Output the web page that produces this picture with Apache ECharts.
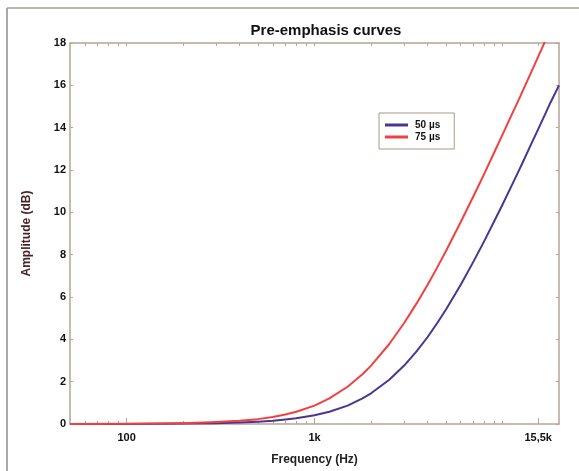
<!DOCTYPE html>
<html>
<head>
<meta charset="utf-8">
<script src="https://cdn.jsdelivr.net/npm/echarts@6/dist/echarts.min.js"></script>
<style>html,body{margin:0;padding:0;background:#fff}#c{width:579px;height:471px}</style>
</head>
<body>
<div id="c"></div>
<script>
// Frequencies (Hz) at which the curves were read
var freqs = [50, 100, 200, 300, 400, 500, 600, 700, 800, 1000, 1200, 1500, 1800, 2000, 2500, 3000, 3500, 4000, 4500, 5000, 6000, 7000, 8000, 9000, 10000, 11000, 12000, 13000, 14000, 15000, 16000, 17000, 18000, 20000];
// 50 µs pre-emphasis (dB)
var db50 = [0.00, 0.00, 0.02, 0.04, 0.07, 0.11, 0.15, 0.21, 0.27, 0.41, 0.58, 0.87, 1.21, 1.45, 2.09, 2.76, 3.44, 4.11, 4.77, 5.40, 6.58, 7.66, 8.64, 9.54, 10.36, 11.12, 11.82, 12.47, 13.09, 13.66, 14.19, 14.70, 15.18, 16.0];
// 75 µs pre-emphasis (dB)
var db75 = [0.00, 0.01, 0.04, 0.09, 0.15, 0.23, 0.33, 0.45, 0.58, 0.87, 1.21, 1.76, 2.35, 2.76, 3.78, 4.77, 5.71, 6.58, 7.40, 8.16, 9.54, 10.75, 11.82, 12.79, 13.66, 14.46, 15.17, 15.86, 16.48, 17.07, 17.63, 18.15, 18.63, 19.6];
var seriesNames = ['50 µs', '75 µs'];
var seriesColors = ['#4a3592', '#f2403f'];
var xLabelValues = [100, 1000, 15500];
var xLabelTexts = ['100', '1k', '15,5k'];
var xMinorTicks = [60, 70, 80, 90, 200, 300, 400, 500, 600, 700, 800, 900, 2000, 3000, 4000, 5000, 6000, 7000, 8000, 9000, 10000];
var yTicks = [0, 2, 4, 6, 8, 10, 12, 14, 16, 18];

function pairs(ys) { return freqs.map(function (f, i) { return [f, ys[i]]; }); }

var axisColor = '#b5a595';
var font = 'Liberation Sans, Arial, sans-serif';

var chart = echarts.init(document.getElementById('c'));
chart.setOption({
  animation: false,
  backgroundColor: '#fff',
  title: {
    text: 'Pre-emphasis curves', left: 321, top: 18, textAlign: 'center',
    textStyle: { fontFamily: font, fontWeight: 'bold', fontSize: 15, color: '#111' }
  },
  grid: { left: 70, right: 20, top: 43, bottom: 47 },
  legend: {
    orient: 'vertical', left: 379, top: 113,
    padding: [7, 14, 7, 6], itemGap: 2, itemWidth: 23, itemHeight: 10,
    borderColor: '#a89a8c', borderWidth: 1, backgroundColor: '#fff',
    data: seriesNames.map(function (n) { return { name: n, icon: 'path://M0,0 L23,0 L23,3 L0,3 Z' }; }),
    textStyle: { fontFamily: font, fontWeight: 'bold', fontSize: 10, color: '#111', padding: [0, 0, 0, 2] }
  },
  graphic: [
    { type: 'line', shape: { x1: 7, y1: 8, x2: 7, y2: 471 }, style: { stroke: '#8c8c8c', lineWidth: 1.5 } },
    { type: 'line', shape: { x1: 7, y1: 8, x2: 579, y2: 8 }, style: { stroke: '#9aa294', lineWidth: 1.5 } }
  ],
  xAxis: [
    {
      type: 'log', logBase: 10, min: 50, max: 20000, position: 'bottom',
      name: 'Frequency (Hz)', nameLocation: 'middle', nameGap: 30,
      nameTextStyle: { fontFamily: font, fontWeight: 'bold', fontSize: 12, color: '#222' },
      axisLine: { show: true, lineStyle: { color: axisColor, width: 1.5 } },
      axisTick: { show: true, inside: true, length: 6, customValues: xLabelValues, lineStyle: { color: axisColor } },
      axisLabel: {
        customValues: xLabelValues, margin: 8,
        fontFamily: font, fontWeight: 'bold', fontSize: 11, color: '#111',
        formatter: function (v) { var i = xLabelValues.indexOf(Math.round(v)); return i >= 0 ? xLabelTexts[i] : ''; }
      },
      splitLine: { show: false }
    },
    {
      type: 'log', logBase: 10, min: 50, max: 20000, position: 'bottom',
      axisLine: { show: false },
      axisTick: { show: true, inside: true, length: 3, customValues: xMinorTicks, lineStyle: { color: axisColor } },
      axisLabel: { show: false }, splitLine: { show: false }
    },
    {
      type: 'log', logBase: 10, min: 50, max: 20000, position: 'top',
      axisLine: { show: true, lineStyle: { color: axisColor, width: 1.5 } },
      axisTick: { show: true, inside: true, length: 3, customValues: xMinorTicks.concat(xLabelValues), lineStyle: { color: axisColor } },
      axisLabel: { show: false }, splitLine: { show: false }
    }
  ],
  yAxis: [
    {
      type: 'value', min: 0, max: 18, interval: 2, position: 'left',
      name: 'Amplitude (dB)', nameLocation: 'middle', nameGap: 37, nameRotate: 90,
      nameTextStyle: { fontFamily: font, fontWeight: 'bold', fontSize: 12, color: '#4a2424' },
      axisLine: { show: true, lineStyle: { color: axisColor, width: 1.5 } },
      axisTick: { show: true, inside: true, length: 3, lineStyle: { color: axisColor } },
      axisLabel: {
        margin: 4, fontFamily: font, fontWeight: 'bold', fontSize: 11, color: '#111',
        customValues: yTicks
      },
      splitLine: { show: false }
    },
    {
      type: 'value', min: 0, max: 18, interval: 2, position: 'right',
      axisLine: { show: true, lineStyle: { color: axisColor, width: 1.5 } },
      axisTick: { show: true, inside: true, length: 3, lineStyle: { color: axisColor } },
      axisLabel: { show: false }, splitLine: { show: false }
    }
  ],
  series: [0, 1].map(function (k) {
    return {
      name: seriesNames[k], type: 'line', xAxisIndex: 0, yAxisIndex: 0,
      data: pairs(k === 0 ? db50 : db75), smooth: false, showSymbol: false, symbol: 'none', clip: true,
      lineStyle: { color: seriesColors[k], width: 2, join: 'round' }, itemStyle: { color: seriesColors[k] }
    };
  })
});
</script>
</body>
</html>
